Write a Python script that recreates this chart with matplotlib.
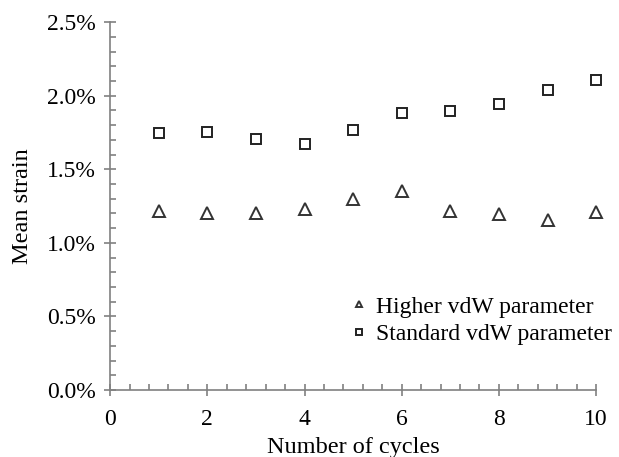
import numpy as np
import matplotlib.pyplot as plt
from matplotlib.ticker import MultipleLocator, FuncFormatter

plt.rcParams['font.family'] = ['Liberation Serif', 'DejaVu Serif']

cycles = [1, 2, 3, 4, 5, 6, 7, 8, 9, 10]
higher_vdw = [1.216, 1.200, 1.200, 1.228, 1.297, 1.352, 1.218, 1.193, 1.155, 1.211]
standard_vdw = [1.746, 1.750, 1.707, 1.670, 1.766, 1.884, 1.893, 1.945, 2.036, 2.106]

fig = plt.figure(figsize=(6.19, 4.57), dpi=100)
ax = fig.add_axes([0.178, 0.1466, 0.785, 0.805])

ax.plot(cycles, higher_vdw, linestyle='none', marker='^', markersize=8,
        markerfacecolor='white', markeredgecolor='#333333', markeredgewidth=1.4,
        label='Higher vdW parameter', clip_on=False)
ax.plot(cycles, standard_vdw, linestyle='none', marker='s', markersize=7.6,
        markerfacecolor='white', markeredgecolor='#222222', markeredgewidth=1.4,
        label='Standard vdW parameter', clip_on=False)

ax.set_xlim(0, 10)
ax.set_ylim(0, 2.5)
ax.xaxis.set_major_locator(MultipleLocator(2))
ax.xaxis.set_minor_locator(MultipleLocator(0.4))
ax.yaxis.set_major_locator(MultipleLocator(0.5))
ax.yaxis.set_minor_locator(MultipleLocator(0.1))
ax.yaxis.set_major_formatter(FuncFormatter(lambda v, p: '%.1f%%' % v))

for side in ['top', 'right']:
    ax.spines[side].set_visible(False)
for side in ['left', 'bottom']:
    ax.spines[side].set_color('#808080')
    ax.spines[side].set_linewidth(1.2)

ax.tick_params(which='major', direction='inout', length=9, width=1.2,
               color='#808080', labelsize=17)
ax.tick_params(axis='y', which='major', pad=6)
ax.tick_params(axis='x', which='major', pad=9)
ax.tick_params(which='minor', direction='in', length=4.5, width=1.2,
               color='#808080')

ax.set_xlabel('Number of cycles', fontsize=17.5, labelpad=5)
ax.set_ylabel('Mean strain', fontsize=17.5, labelpad=10)

ax.legend(loc='upper left', bbox_to_anchor=(352 / 619, 1 - 296 / 457),
          bbox_transform=fig.transFigure, frameon=False, fontsize=17,
          markerscale=0.5, handlelength=0.6, handletextpad=0.4,
          labelspacing=0.25, borderpad=0, borderaxespad=0)

fig.savefig('out.png', dpi=100, facecolor='white')
